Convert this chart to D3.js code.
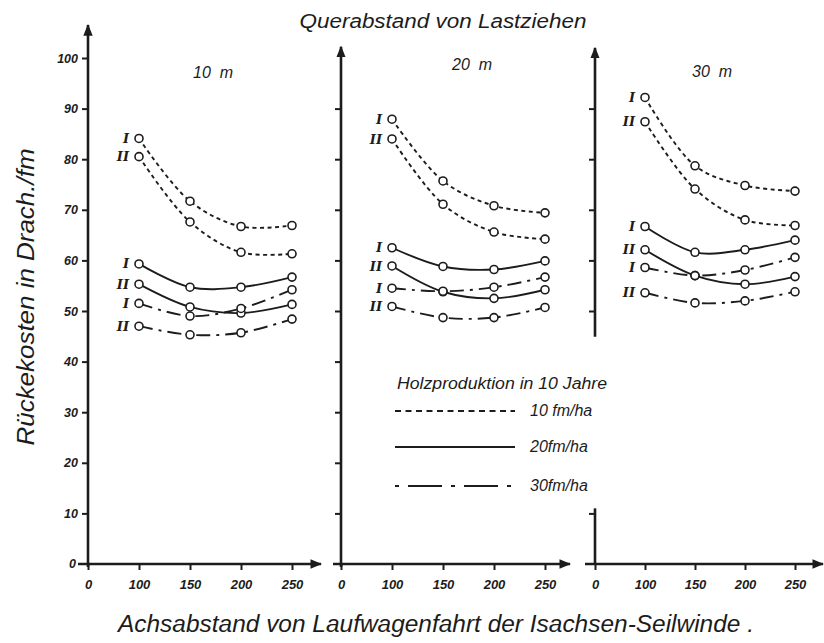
<!DOCTYPE html>
<html>
<head>
<meta charset="utf-8">
<script src="https://cdn.jsdelivr.net/npm/d3@7"></script>
<style>
  body { margin: 0; background: #fff; }
  svg text { font-family: "Liberation Sans", "DejaVu Sans", sans-serif; font-style: italic; fill: #1c1c1c; }
</style>
</head>
<body>
<div id="chart"></div>
<script>
// values
const spacings = ["10  m", "20  m", "30  m"];
const distances = ["100", "150", "200", "250"];
const xTickLabels = ["0", "100", "150", "200", "250"];
const yTickValues = [0, 10, 20, 30, 40, 50, 60, 70, 80, 90, 100];
const productions = ["10 fm/ha", "20fm/ha", "30fm/ha"];
const seriesNames = ["I", "II", "I", "II", "I", "II"];
const seriesProduction = [0, 0, 1, 1, 2, 2];

// rows follow seriesNames: 10fm I, 10fm II, 20fm I, 20fm II, 30fm I, 30fm II
const costs10m = [
  [84.1, 71.7, 66.7, 66.9],
  [80.5, 67.6, 61.6, 61.3],
  [59.3, 54.7, 54.7, 56.7],
  [55.3, 50.8, 49.6, 51.3],
  [51.5, 49.0, 50.5, 54.2],
  [47.0, 45.3, 45.7, 48.4]
];
const costs20m = [
  [87.9, 75.7, 70.8, 69.4],
  [84.0, 71.1, 65.6, 64.2],
  [62.5, 58.8, 58.2, 59.9],
  [58.9, 53.8, 52.5, 54.2],
  [54.5, 53.9, 54.7, 56.7],
  [50.9, 48.7, 48.7, 50.7]
];
const costs30m = [
  [92.2, 78.7, 74.8, 73.7],
  [87.4, 74.1, 68.0, 66.9],
  [66.7, 61.6, 62.1, 64.0],
  [62.1, 57.0, 55.3, 56.8],
  [58.6, 57.0, 58.1, 60.6],
  [53.6, 51.6, 52.0, 53.8]
];
const panelCosts = [costs10m, costs20m, costs30m];

const width = 824, height = 643;
const ink = "#1c1c1c";
const curveDash = ["4,3.5", null, "14,6,3,6"];
const legendDash = ["6,4.5", null, "4,9,34,9"];

const svg = d3.select("#chart").append("svg")
  .attr("width", width).attr("height", height)
  .style("background", "#fff");

svg.append("defs").append("marker")
  .attr("id", "arrow")
  .attr("viewBox", "0 0 10 10")
  .attr("refX", 9).attr("refY", 5)
  .attr("markerWidth", 4.5).attr("markerHeight", 4.5)
  .attr("markerUnits", "strokeWidth")
  .attr("orient", "auto")
  .append("path").attr("d", "M0,1 L10,5 L0,9 Z").attr("fill", ink);

const y = d3.scaleLinear().domain([0, 100]).range([564, 58]);

// panel geometry: origin x, last tick x, axis top value, x axis extent, caption spot
const panels = [
  { x0: 88, x1: 292, top: 106.5, lineStart: 78, lineEnd: 321, label: [213, 78], yLabels: true },
  { x0: 341, x1: 545, top: 102.2, lineStart: 333, lineEnd: 570, label: [472, 70], yLabels: false },
  { x0: 595, x1: 795, top: 102, lineStart: 585, lineEnd: 823, label: [712, 77], yLabels: false }
];

panels.forEach(function(p, pi) {
  const x = d3.scalePoint().domain(xTickLabels).range([p.x0, p.x1]);
  const g = svg.append("g");

  // x axis
  const xAxis = d3.axisBottom(x).tickSize(6).tickPadding(8);
  const gx = g.append("g").attr("transform", `translate(0,${y(0)})`).call(xAxis);
  gx.select(".domain").remove();
  gx.selectAll(".tick line").attr("stroke", ink).attr("stroke-width", 2);
  gx.selectAll(".tick text")
    .style("font-size", "13px").style("font-weight", "bold")
    .attr("fill", ink).attr("dy", "0.85em");
  g.append("line")
    .attr("x1", p.lineStart).attr("x2", p.lineEnd)
    .attr("y1", y(0)).attr("y2", y(0))
    .attr("stroke", ink).attr("stroke-width", 2.6)
    .attr("marker-end", "url(#arrow)");

  // y axis
  let tickVals = yTickValues.slice(1);
  if (pi === 1) tickVals = yTickValues.slice(1, 10);
  if (pi === 2) tickVals = [10, 50, 60, 70, 80, 90];
  const yAxis = d3.axisLeft(y).tickValues(tickVals).tickSize(6).tickPadding(4)
    .tickFormat(p.yLabels ? d3.format("d") : () => "");
  const gy = g.append("g").attr("transform", `translate(${p.x0},0)`).call(yAxis);
  gy.select(".domain").remove();
  gy.selectAll(".tick line").attr("stroke", ink).attr("stroke-width", 2);
  gy.selectAll(".tick text")
    .style("font-size", "12.5px").style("font-weight", "bold").attr("fill", ink);
  if (p.yLabels) {
    g.append("text").attr("x", p.x0 - 12).attr("y", y(0)).attr("dy", "0.35em")
      .attr("text-anchor", "end").style("font-size", "12.5px").style("font-weight", "bold")
      .text("0");
  }

  if (pi === 2) {
    // right panel axis is drawn with a gap behind the legend
    g.append("line").attr("x1", p.x0).attr("x2", p.x0)
      .attr("y1", y(44.9)).attr("y2", y(p.top))
      .attr("stroke", ink).attr("stroke-width", 2.6).attr("marker-end", "url(#arrow)");
    g.append("line").attr("x1", p.x0).attr("x2", p.x0)
      .attr("y1", y(0)).attr("y2", y(11))
      .attr("stroke", ink).attr("stroke-width", 2.6);
  } else {
    g.append("line").attr("x1", p.x0).attr("x2", p.x0)
      .attr("y1", y(0) + 3).attr("y2", y(p.top))
      .attr("stroke", ink).attr("stroke-width", 2.6).attr("marker-end", "url(#arrow)");
  }

  // panel caption
  g.append("text").attr("x", p.label[0]).attr("y", p.label[1])
    .attr("text-anchor", "middle").style("font-size", "16px")
    .style("white-space", "pre").attr("xml:space", "preserve")
    .text(spacings[pi]);

  // curves
  const line = d3.line()
    .x((d, i) => x(distances[i]))
    .y(d => y(d))
    .curve(d3.curveCatmullRom.alpha(0.5));

  panelCosts[pi].forEach(function(vals, si) {
    const prod = seriesProduction[si];
    g.append("path")
      .attr("d", line(vals))
      .attr("fill", "none")
      .attr("stroke", ink)
      .attr("stroke-width", 1.9)
      .attr("stroke-dasharray", curveDash[prod]);

    g.selectAll(null).data(vals).enter().append("circle")
      .attr("cx", (d, i) => x(distances[i]))
      .attr("cy", d => y(d))
      .attr("r", 4)
      .attr("fill", "#fff")
      .attr("stroke", ink)
      .attr("stroke-width", 1.6);

    g.append("text")
      .attr("x", x(distances[0]) - 10)
      .attr("y", y(vals[0]))
      .attr("dy", "0.35em")
      .attr("text-anchor", "end")
      .style("font-family", "'DejaVu Serif', serif")
      .style("font-size", "13px")
      .style("font-weight", "bold")
      .text(seriesNames[si]);
  });
});

// titles
svg.append("text").attr("x", 443).attr("y", 28).attr("text-anchor", "middle")
  .style("font-size", "20px").attr("textLength", 287).attr("lengthAdjust", "spacingAndGlyphs")
  .text("Querabstand von Lastziehen");

svg.append("text").attr("x", 436).attr("y", 632).attr("text-anchor", "middle")
  .style("font-size", "23px").attr("textLength", 636).attr("lengthAdjust", "spacingAndGlyphs")
  .text("Achsabstand von Laufwagenfahrt der Isachsen-Seilwinde .");

svg.append("text").attr("transform", "translate(34,297) rotate(-90)")
  .attr("text-anchor", "middle")
  .style("font-size", "23px").attr("textLength", 297).attr("lengthAdjust", "spacingAndGlyphs")
  .text("Rückekosten in Drach./fm");

// legend
const legend = svg.append("g");
legend.append("text").attr("x", 397).attr("y", 389)
  .style("font-size", "16px").attr("textLength", 210).attr("lengthAdjust", "spacingAndGlyphs")
  .text("Holzproduktion in 10 Jahre");
const legendY = [411, 447, 486];
productions.forEach(function(name, i) {
  legend.append("line")
    .attr("x1", 395).attr("x2", 515)
    .attr("y1", legendY[i]).attr("y2", legendY[i])
    .attr("stroke", ink).attr("stroke-width", 1.9)
    .attr("stroke-dasharray", legendDash[i]);
  legend.append("text").attr("x", 530).attr("y", legendY[i] + 5)
    .style("font-size", "16px")
    .text(name);
});
</script>
</body>
</html>
